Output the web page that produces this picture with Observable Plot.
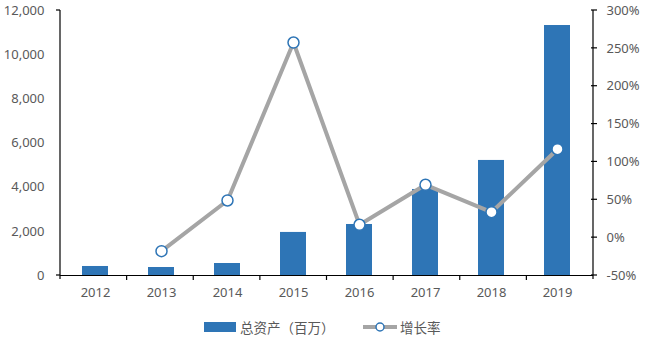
<!DOCTYPE html>
<html>
<head>
<meta charset="utf-8">
<script src="https://cdn.jsdelivr.net/npm/d3@7"></script>
<script src="https://cdn.jsdelivr.net/npm/@observablehq/plot@0.6"></script>
<style>
  body { margin: 0; background: #fff; font-family: "Noto Sans", "Noto Sans CJK SC", sans-serif; }
  #chart { position: relative; width: 646px; height: 341px; }
  #legend { position: absolute; left: 0; top: 317px; width: 646px; height: 20px; font-family: "Noto Sans CJK SC", sans-serif; font-size: 13.5px; color: #595959; }
  .item { position: absolute; top: 0; display: flex; align-items: center; height: 20px; }
</style>
</head>
<body>
<div id="chart"></div>
<script>
const years = ["2012","2013","2014","2015","2016","2017","2018","2019"];
const assets = [408, 362, 543, 1950, 2310, 3895, 5210, 11320];
const growthYears = ["2013","2014","2015","2016","2017","2018","2019"];
const growth = [-17.9, 49.1, 257.7, 17, 69.8, 33.6, 116.8];
const leftTicks = [0, 2000, 4000, 6000, 8000, 10000, 12000];
const rightTicks = [-50, 0, 50, 100, 150, 200, 250, 300];
const seriesNames = ["总资产（百万）", "增长率"];

const yMax = 12000, gMin = -50, gMax = 300;
const toY = g => (g - gMin) / (gMax - gMin) * yMax;
const fromY = v => v / yMax * (gMax - gMin) + gMin;

const barData = years.map((y, i) => ({year: y, value: assets[i]}));
const lineData = growthYears.map((y, i) => ({year: y, g: growth[i], yv: toY(growth[i])}));

const blue = "#2E75B6";
const gray = "#A5A5A5";
const textColor = "#595959";

const plot = Plot.plot({
  width: 646,
  height: 305,
  marginLeft: 60,
  marginRight: 53,
  marginTop: 10,
  marginBottom: 30,
  style: {fontFamily: "'Noto Sans', sans-serif", fontSize: "13px", color: textColor, background: "#fff"},
  x: {domain: years, paddingInner: 0.6, paddingOuter: 0.3, align: 0.5, label: null},
  y: {domain: [0, yMax], label: null},
  marks: [
    Plot.barY(barData, {x: "year", y: "value", fill: blue}),
    Plot.line(lineData, {x: "year", y: "yv", stroke: gray, strokeWidth: 4}),
    Plot.dot(lineData, {x: "year", y: "yv", r: 5.5, fill: "white", stroke: blue, strokeWidth: 1.5}),
    Plot.ruleY([0], {stroke: "black", strokeWidth: 1.2}),
    Plot.axisY({ticks: leftTicks, tickSize: 0, tickPadding: 16, tickFormat: d => d3.format(",")(d), fill: textColor, label: null}),
    Plot.axisY({anchor: "right", ticks: rightTicks.map(toY), tickSize: 0, tickPadding: 13, tickFormat: d => Math.round(fromY(d)) + "%", fill: textColor, label: null}),
    Plot.axisX({tickSize: 0, tickPadding: 12, fill: textColor, label: null})
  ]
});
document.getElementById("chart").appendChild(plot);

// Axis lines and tick marks, positioned from Plot's scales
const sy = plot.scale("y");
const svg = d3.select(plot);
const x0 = 60, x1 = 593;
const yTop = sy.apply(yMax), yBot = sy.apply(0);
const g = svg.append("g").attr("stroke", "black").attr("stroke-width", 1.2).attr("fill", "none");
g.append("line").attr("x1", x0).attr("x2", x0).attr("y1", yTop).attr("y2", yBot + 4);
g.append("line").attr("x1", x1).attr("x2", x1).attr("y1", yTop).attr("y2", yBot + 4);
g.append("line").attr("x1", x0 - 4).attr("x2", x0).attr("y1", yTop).attr("y2", yTop);
g.append("line").attr("x1", x0 - 4).attr("x2", x0).attr("y1", yBot).attr("y2", yBot);
rightTicks.forEach(t => {
  const yy = sy.apply(toY(t));
  g.append("line").attr("x1", x1 - 2).attr("x2", x1 + 4).attr("y1", yy).attr("y2", yy);
});
const step = (x1 - x0) / years.length;
for (let i = 1; i < years.length; i++) {
  const xx = x0 + i * step;
  g.append("line").attr("x1", xx).attr("x2", xx).attr("y1", yBot).attr("y2", yBot + 5);
}

// legend
const legend = document.createElement("div");
legend.id = "legend";
legend.innerHTML = `
  <div class="item" style="left:204px"><span style="display:inline-block;width:32px;height:10px;background:${blue};margin-right:4px"></span>${seriesNames[0]}</div>
  <div class="item" style="left:363px"><svg width="34" height="12" style="margin-right:3px"><line x1="0" x2="34" y1="6" y2="6" stroke="${gray}" stroke-width="4"/><circle cx="17" cy="6" r="4" fill="white" stroke="${blue}" stroke-width="1.5"/></svg>${seriesNames[1]}</div>`;
document.getElementById("chart").appendChild(legend);
</script>
</body>
</html>
